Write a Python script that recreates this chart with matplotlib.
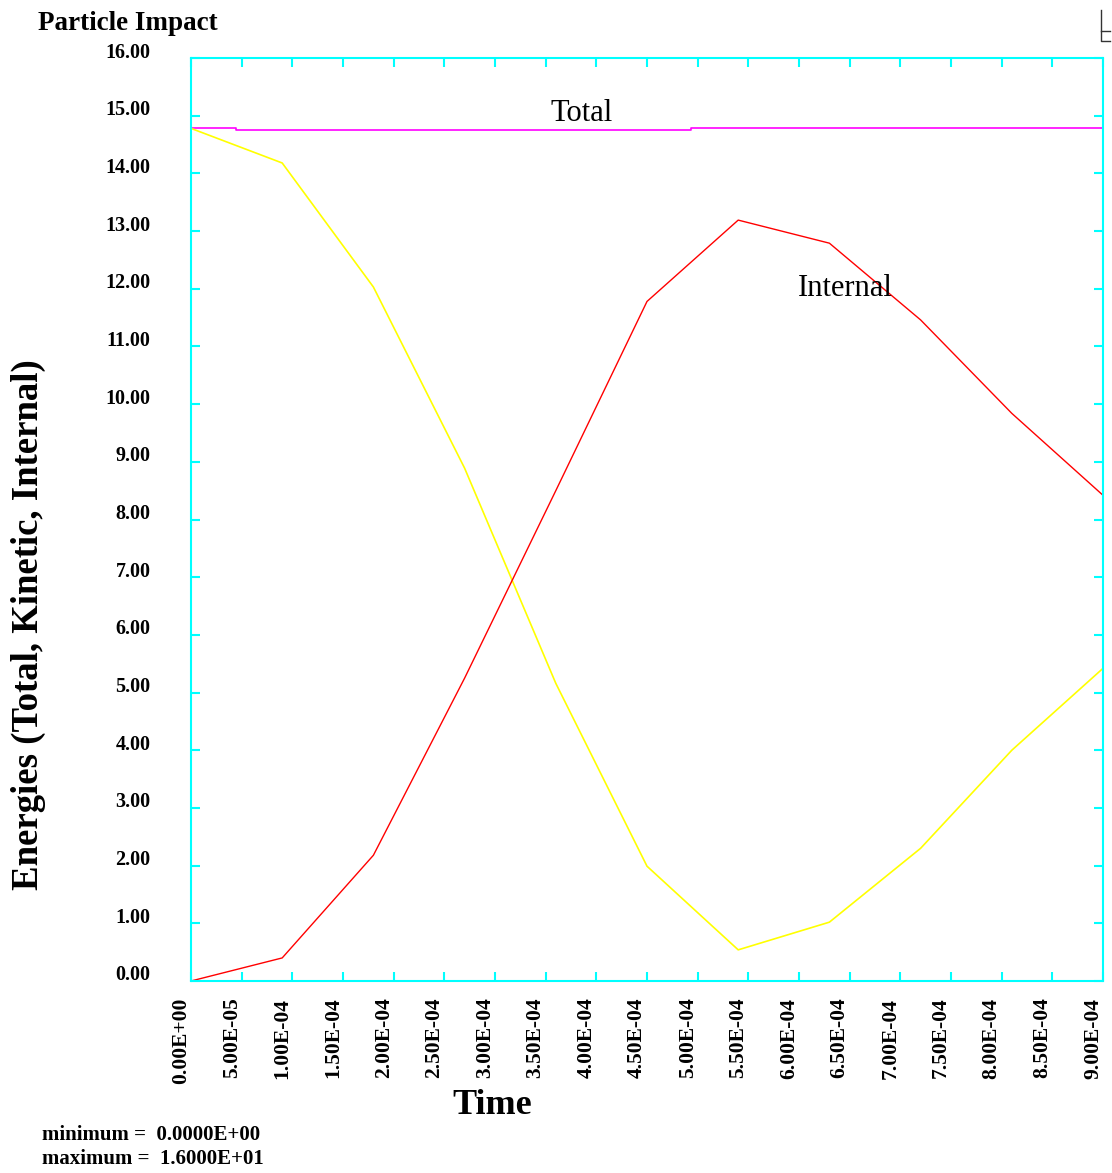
import matplotlib
matplotlib.use("Agg")
import matplotlib.pyplot as plt
import matplotlib.transforms as mtransforms
from matplotlib.lines import Line2D
import numpy as np

# ============================================================
# Dados
# ============================================================

tempo = [0.0, 0.9e-4, 1.8e-4, 2.7e-4, 3.6e-4, 4.5e-4,
         5.4e-4, 6.3e-4, 7.2e-4, 8.1e-4, 9.0e-4]

energia_interna = [0.00, 0.40, 2.18, 5.25, 8.50, 11.78,
                   13.19, 12.79, 11.46, 9.84, 8.42]

energia_cinetica = [14.78, 14.18, 12.03, 8.89, 5.16, 1.99,
                    0.54, 1.02, 2.30, 4.00, 5.42]

# Energia total (quase constante, com pequenos degraus)
tempo_total = [0.0, 0.44e-4, 4.93e-4, 9.0e-4]
energia_total = [14.78, 14.75, 14.78, 14.78]

yticks = np.arange(0, 17, 1)
xticks = np.arange(0, 9.5e-4, 0.5e-4)

rotulo_total = ("Total", 3.85e-4, 15.04)
rotulo_interna = ("Internal", 6.46e-4, 12.01)

# ============================================================
# Figura
# ============================================================

serif = ["Liberation Serif", "DejaVu Serif"]
plt.rcParams["font.family"] = serif

fig = plt.figure(figsize=(11.12, 11.73), dpi=100)
ax = fig.add_axes([191 / 1112, 192 / 1173, 912 / 1112, 923 / 1173])

ax.plot(tempo_total, energia_total, color="#FF00FF", lw=1.2, drawstyle="steps-post")
ax.plot(tempo, energia_cinetica, color="#FFFF00", lw=1.2)
ax.plot(tempo, energia_interna, color="#FF0000", lw=1.0)

ax.text(rotulo_total[1], rotulo_total[2], rotulo_total[0],
        fontsize=22, ha="center", va="center")
ax.text(rotulo_interna[1], rotulo_interna[2], rotulo_interna[0],
        fontsize=22, ha="center", va="center")

ax.set_xlim(0, 9e-4)
ax.set_ylim(0, 16)

for s in ax.spines.values():
    s.set_color("#00FFFF")
    s.set_linewidth(1.5)

ax.set_yticks(yticks)
ax.set_yticklabels([f"{v:.2f}" for v in yticks], fontsize=14.5, fontweight="bold")
ax.set_xticks(xticks)
ax.set_xticklabels([f"{v:.2E}" for v in xticks], fontsize=15.5,
                   fontweight="bold", rotation=90)

ax.tick_params(axis="both", which="both", direction="in", length=6.5,
               width=1.5, color="#00FFFF", top=True, right=True)
ax.tick_params(axis="y", pad=29)
ax.tick_params(axis="x", pad=12)

# deslocamento dos rotulos como no original
dy = mtransforms.ScaledTranslation(0, 8 / 100, fig.dpi_scale_trans)
for lab in ax.get_yticklabels():
    lab.set_transform(lab.get_transform() + dy)
dx = mtransforms.ScaledTranslation(-10 / 100, 0, fig.dpi_scale_trans)
for lab in ax.get_xticklabels():
    lab.set_transform(lab.get_transform() + dx)

ax.set_xlabel("Time", fontsize=26, fontweight="bold", va="center")
ax.xaxis.set_label_coords((492 - 191) / 912, (981 - 1105) / 923)
ax.set_ylabel("Energies (Total, Kinetic, Internal)", fontsize=26.5,
              fontweight="bold", va="center", ha="center")
ax.yaxis.set_label_coords((28 - 191) / 912, (981 - 625) / 923)

fig.text(38 / 1112, 1 - 23 / 1173, "Particle Impact", fontsize=19.5,
         fontweight="bold", ha="left", va="center")

fig.text(42 / 1112, 1 - 1135 / 1173, "minimum =  0.0000E+00", fontsize=15,
         fontweight="bold", ha="left", va="center")
fig.text(42 / 1112, 1 - 1159 / 1173, "maximum =  1.6000E+01", fontsize=15,
         fontweight="bold", ha="left", va="center")

# pequeno simbolo no canto superior direito
fig.add_artist(Line2D([1101 / 1112, 1101 / 1112, 1110 / 1112],
                      [1 - 10 / 1173, 1 - 41 / 1173, 1 - 41 / 1173],
                      color="#333333", lw=1.0))
fig.add_artist(Line2D([1101 / 1112, 1110 / 1112],
                      [1 - 31 / 1173, 1 - 31 / 1173],
                      color="#333333", lw=1.0))

fig.savefig("out.png", dpi=100)
